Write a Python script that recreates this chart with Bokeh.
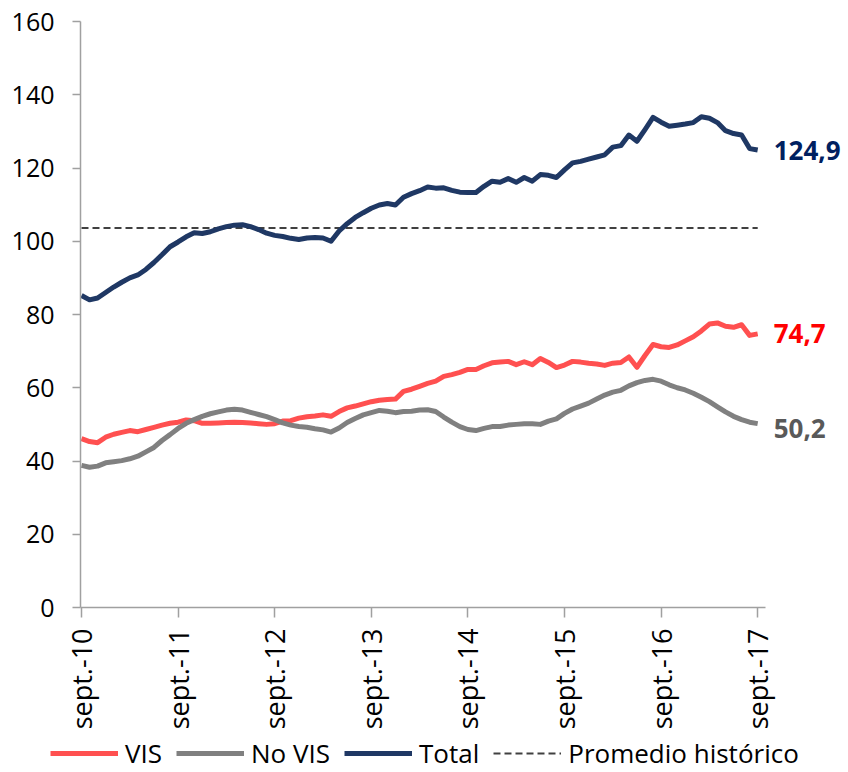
import math
from bokeh.plotting import figure
from bokeh.layouts import column, row
from bokeh.models import Legend, LegendItem, FixedTicker, Range1d, ColumnDataSource
from bokeh.core.properties import value
from bokeh.embed import file_html
from bokeh.resources import INLINE

# ---- data (monthly, sept-2010 .. sept-2017) ----
months = list(range(85))
tick_positions = [0, 12, 24, 36, 48, 60, 72, 84]
tick_labels = ["sept.-10", "sept.-11", "sept.-12", "sept.-13",
               "sept.-14", "sept.-15", "sept.-16", "sept.-17"]

vis = [46.1, 45.3, 45.0, 46.5, 47.3, 47.8, 48.3, 48.0, 48.6, 49.2, 49.8, 50.3,
       50.6, 51.2, 51.0, 50.3, 50.3, 50.4, 50.5, 50.6, 50.5, 50.4, 50.2, 50.0,
       50.2, 50.9, 51.0, 51.7, 52.1, 52.3, 52.6, 52.2, 53.5, 54.5, 55.0, 55.6,
       56.2, 56.6, 56.8, 56.9, 59.0, 59.6, 60.4, 61.2, 61.8, 63.1, 63.6, 64.2,
       65.0, 65.0, 66.0, 66.8, 67.0, 67.2, 66.3, 67.1, 66.3, 68.0, 66.9, 65.5,
       66.2, 67.2, 67.0, 66.7, 66.5, 66.1, 66.7, 66.9, 68.4, 65.6, 68.8, 71.8,
       71.2, 71.0, 71.7, 72.8, 73.9, 75.5, 77.4, 77.7, 76.8, 76.5, 77.2, 74.3,
       74.7]

no_vis = [38.8, 38.3, 38.6, 39.5, 39.8, 40.1, 40.6, 41.3, 42.5, 43.7, 45.6, 47.2,
          48.9, 50.3, 51.3, 52.2, 52.9, 53.4, 53.9, 54.1, 53.9, 53.3, 52.7, 52.1,
          51.3, 50.4, 49.8, 49.4, 49.2, 48.8, 48.5, 47.9, 49.0, 50.5, 51.6, 52.6,
          53.2, 53.8, 53.6, 53.2, 53.5, 53.6, 53.9, 54.0, 53.5, 52.0, 50.6, 49.4,
          48.6, 48.3, 48.9, 49.4, 49.4, 49.8, 50.0, 50.2, 50.2, 50.0, 50.9, 51.5,
          53.0, 54.2, 55.0, 55.8, 56.9, 58.0, 58.8, 59.3, 60.5, 61.4, 62.0, 62.3,
          61.8, 60.8, 60.0, 59.4, 58.5, 57.4, 56.2, 54.8, 53.4, 52.2, 51.3, 50.6,
          50.2]

total = [85.2, 84.0, 84.5, 86.0, 87.5, 88.8, 90.0, 90.8, 92.3, 94.2, 96.3, 98.5,
         99.8, 101.2, 102.3, 102.1, 102.6, 103.4, 104.0, 104.4, 104.5, 104.0, 103.2, 102.2,
         101.6, 101.3, 100.8, 100.5, 100.9, 101.0, 100.9, 100.0, 102.8, 104.8, 106.5, 107.8,
         109.0, 109.9, 110.3, 109.9, 112.0, 113.0, 113.8, 114.8, 114.5, 114.6, 113.9, 113.4,
         113.3, 113.3, 115.0, 116.4, 116.1, 117.1, 116.1, 117.4, 116.4, 118.2, 118.0, 117.4,
         119.5, 121.4, 121.8, 122.4, 123.0, 123.6, 125.7, 126.1, 129.0, 127.3, 130.5, 133.8,
         132.5, 131.4, 131.7, 132.0, 132.4, 134.0, 133.6, 132.4, 130.2, 129.4, 129.0, 125.3,
         124.9]

promedio = 103.6
series_names = ["VIS", "No VIS", "Total", "Promedio histórico"]

# ---- styles ----
FONT = "Open Sans"
styles = [
    dict(line_color="#FF5050", line_width=5),
    dict(line_color="#808080", line_width=5),
    dict(line_color="#1F3864", line_width=5),
    dict(line_color="#404040", line_width=2, line_dash="7 4"),
]

# ---- main figure ----
p = figure(frame_width=768, frame_height=586,
           x_range=Range1d(-0.124, 95.28), y_range=Range1d(0, 160),
           output_backend="svg", toolbar_location=None,
           min_border_left=80, min_border_top=21, min_border_right=0,
           min_border_bottom=128)
p.outline_line_color = None
p.xgrid.grid_line_color = None
p.ygrid.grid_line_color = None
p.background_fill_color = "white"
p.border_fill_color = "white"

p.line(months, [promedio] * len(months), **styles[3])
p.line(months, vis, line_join="round", **styles[0])
p.line(months, no_vis, line_join="round", **styles[1])
p.line(months, total, line_join="round", **styles[2])

def fmt(v):
    return ("%.1f" % v).replace(".", ",")

end_src = ColumnDataSource(dict(
    x=[months[-1]] * 3,
    y=[total[-1], vis[-1], no_vis[-1] - 1.3],
    t=[fmt(total[-1]), fmt(vis[-1]), fmt(no_vis[-1])],
    c=["#002060", "#FF0000", "#595959"],
))
p.text(x="x", y="y", text="t", text_color="c", source=end_src,
       text_font=value(FONT), text_font_style="bold", text_font_size="26px",
       text_align="left", text_baseline="middle", x_offset=16)

ax_col = "#A0A0A0"
yax = p.yaxis[0]
yax.ticker = FixedTicker(ticks=[0, 20, 40, 60, 80, 100, 120, 140, 160])
yax.minor_tick_line_color = None
yax.axis_line_color = ax_col
yax.axis_line_width = 1.5
yax.major_tick_line_color = ax_col
yax.major_tick_line_width = 1.5
yax.major_tick_out = 8
yax.major_tick_in = 0
yax.major_label_standoff = 18
yax.major_label_text_font = FONT
yax.major_label_text_font_size = "25px"
yax.major_label_text_color = "#000000"

xax = p.xaxis[0]
xax.ticker = FixedTicker(ticks=tick_positions)
xax.major_label_overrides = {t: l for t, l in zip(tick_positions, tick_labels)}
xax.bounds = (-0.124, 84.97)
xax.minor_tick_line_color = None
xax.axis_line_color = ax_col
xax.axis_line_width = 1.5
xax.major_tick_line_color = ax_col
xax.major_tick_line_width = 1.5
xax.major_tick_out = 10
xax.major_tick_in = 0
xax.major_label_standoff = 11
xax.major_label_orientation = math.pi / 2
xax.major_label_text_font = FONT
xax.major_label_text_font_size = "27px"
xax.major_label_text_color = "#000000"

# ---- legend strip (separate figure; proxy lines lie outside its ranges) ----
lg = figure(width=848, height=36, x_range=Range1d(0, 1), y_range=Range1d(0, 1),
            output_backend="svg", toolbar_location=None,
            x_axis_location=None, y_axis_location=None,
            min_border=0, min_border_left=0, min_border_right=0,
            min_border_top=0, min_border_bottom=0)
lg.outline_line_color = None
lg.xgrid.grid_line_color = None
lg.ygrid.grid_line_color = None
lg.border_fill_color = "white"
items = []
for name, st, ys in zip(series_names, styles,
                        [vis, no_vis, total, [promedio] * len(months)]):
    r = lg.line(months, ys, **st)
    items.append(LegendItem(label=name, renderers=[r]))
legend = Legend(items=items, orientation="horizontal", location=(50, 0))
legend.border_line_color = None
legend.background_fill_alpha = 0
legend.padding = 0
legend.margin = 0
legend.spacing = 14
legend.label_standoff = 7
legend.glyph_width = 68
legend.glyph_height = 36
legend.label_height = 36
legend.label_text_font = FONT
legend.label_text_font_size = "26px"
legend.label_text_color = "#000000"
lg.add_layout(legend, "center")

layout = column(p, row(lg), spacing=0)
open("out.html", "w").write(file_html(layout, INLINE))
